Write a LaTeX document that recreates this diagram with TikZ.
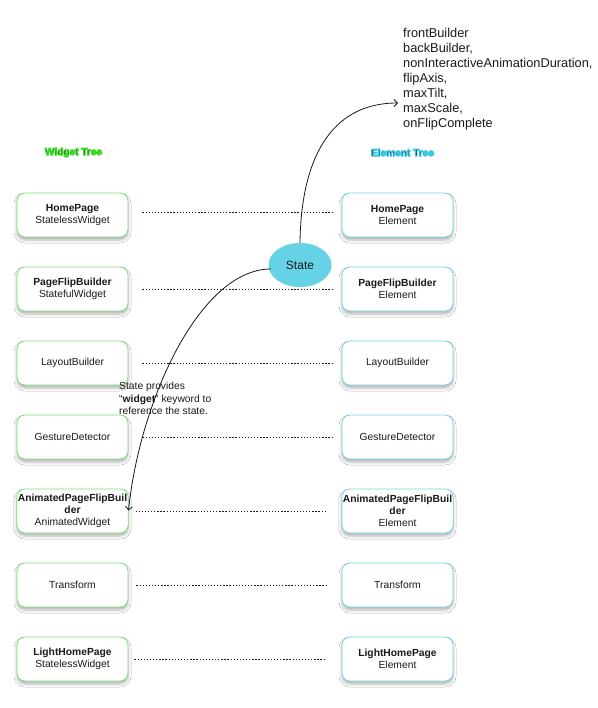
\documentclass[tikz,border=0pt]{standalone}
\usepackage{fontspec}
\setmainfont{Liberation Sans}
\usetikzlibrary{arrows.meta,shapes.geometric,shadows.blur}
\definecolor{wgreen}{HTML}{7EE07A}
\definecolor{ecyan}{HTML}{72D6EA}
\definecolor{stfill}{HTML}{66D2E6}
\definecolor{txt}{HTML}{1A1A1A}
\definecolor{wtdark}{HTML}{12300E}
\definecolor{etdark}{HTML}{0E2A48}
\newcommand{\glowtxt}[2]{%
  \special{pdf:literal direct 2 Tr 0.85 w #1 RG}#2\special{pdf:literal direct 0 Tr}}
\tikzset{
  box/.style={draw, line width=0.8pt, rounded corners=8pt, fill=white,
    minimum width=111pt, minimum height=44pt, inner sep=1pt, align=center,
    text=txt, font=\fontsize{10.3}{12}\selectfont,
    blur shadow={shadow xshift=0pt, shadow yshift=-3pt, shadow blur radius=3pt, shadow opacity=30}},
  wbox/.style={box, draw=wgreen},
  ebox/.style={box, draw=ecyan},
  link/.style={line width=0.9pt, dash pattern=on 1.3pt off 1.8pt, draw=txt},
  curve/.style={line width=0.8pt, draw=txt, -{Straight Barb[length=3.5pt,width=7pt]}},
  title/.style={font=\bfseries\fontsize{10.1}{11}\selectfont, inner sep=1pt},
}
\begin{document}
\begin{tikzpicture}[x=1pt,y=-1pt]
\fill[white] (0,0) rectangle (597,708);
\useasboundingbox (0,0) rectangle (597,708);

% titles
\node[title, text=wtdark] (wt) at (73.5,152.5) {\glowtxt{0.24 0.86 0.16}{Widget Tree}};
\node[title, text=etdark] (et) at (402.5,152.5) {\glowtxt{0.22 0.78 0.88}{Element Tree}};

% widget tree
\node[wbox] (w1) at (72.5,215) {\textbf{HomePage}\\StatelessWidget};
\node[wbox] (w2) at (72.5,289) {\textbf{PageFlipBuilder}\\StatefulWidget};
\node[wbox] (w3) at (72.5,363) {LayoutBuilder};
\node[wbox] (w4) at (72.5,437) {GestureDetector};
\node[wbox] (w5) at (72.5,511) {\textbf{AnimatedPageFlipBuil}\\\textbf{der}\\AnimatedWidget};
\node[wbox] (w6) at (72.5,585) {Transform};
\node[wbox] (w7) at (72.5,659) {\textbf{LightHomePage}\\StatelessWidget};

% element tree
\node[ebox] (e1) at (397.5,215) {\textbf{HomePage}\\Element};
\node[ebox] (e2) at (397.5,289) {\textbf{PageFlipBuilder}\\Element};
\node[ebox] (e3) at (397.5,363) {LayoutBuilder};
\node[ebox] (e4) at (397.5,437) {GestureDetector};
\node[ebox] (e5) at (397.5,511) {\textbf{AnimatedPageFlipBuil}\\\textbf{der}\\Element};
\node[ebox] (e6) at (397.5,585) {Transform};
\node[ebox] (e7) at (397.5,659) {\textbf{LightHomePage}\\Element};

% dotted links
\draw[link] ([xshift=14pt,yshift=2.5pt]w1.east) -- ([xshift=-9pt,yshift=2.5pt]e1.west);
\draw[link] ([xshift=14pt]w2.east) -- ([xshift=-9pt]e2.west);
\draw[link] ([xshift=14pt]w3.east) -- ([xshift=-9pt]e3.west);
\draw[link] ([xshift=14pt]w4.east) -- ([xshift=-9pt]e4.west);
\draw[link] ([xshift=7pt]w5.east) -- ([xshift=-15pt]e5.west);
\draw[link] ([xshift=8pt]w6.east) -- ([xshift=-14pt]e6.west);
\draw[link] ([xshift=6pt]w7.east) -- ([xshift=-16pt]e7.west);

% state
\node[ellipse, fill=stfill, minimum width=63pt, minimum height=44pt, inner sep=0pt,
  font=\fontsize{12}{14}\selectfont, text=txt] (st) at (300,265) {State};

% props text
\node[anchor=north west, align=left, inner sep=0pt, text=txt,
  font=\fontsize{12.8}{15}\selectfont] (props) at (403,28.3)
  {frontBuilder\\backBuilder,\\nonInteractiveAnimationDuration,\\flipAxis,\\maxTilt,\\maxScale,\\onFlipComplete};
\coordinate (pa) at (398,103);

% note
\node[anchor=north west, align=left, inner sep=0pt, text=txt,
  font=\fontsize{10.3}{12.5}\selectfont] (note) at (119,382)
  {State provides\\“\textbf{widget}” keyword to\\reference the state.};

% curves
\draw[curve] (st.north) .. controls (301,160) and (330,103) .. (pa);
\coordinate (sl) at (271,269);
\coordinate (wa) at (128.5,510.5);
\draw[curve] (sl) .. controls (200,269) and (140,400) .. (wa);
\end{tikzpicture}
\end{document}
